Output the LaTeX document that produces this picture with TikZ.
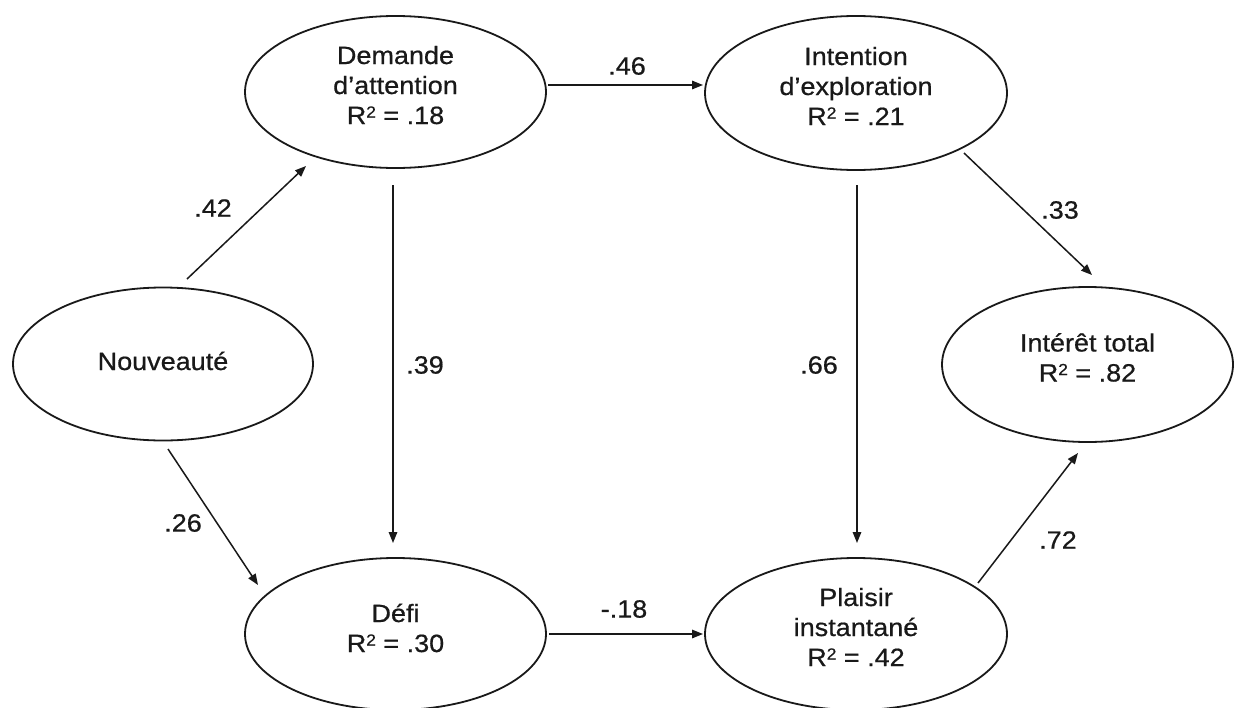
\documentclass[tikz,border=0pt]{standalone}
\usepackage{fontspec}
\setmainfont[FakeStretch=1.08,FakeBold=0.6]{Liberation Sans}
\usetikzlibrary{shapes.geometric,arrows.meta,calc}
\newcommand{\vtext}[2][4pt]{\raisebox{#1}[\height][\depth]{\begin{tabular}{@{}c@{}}#2\end{tabular}}}
\newcommand{\rsq}{R\raisebox{6.5pt}{\fontsize{16}{16}\selectfont 2}}
\tikzset{
  var/.style={ellipse, draw=black!90, line width=1.8pt, inner sep=0pt,
    font=\fontsize{25}{30}\selectfont, text=black!90},
  conn/.style={-{Triangle[length=11pt,width=8.5pt]}, line width=1.5pt, draw=black!90},
  coef/.style={font=\fontsize{25}{30}\selectfont, text=black!90, inner sep=0pt}
}
\begin{document}
\begin{tikzpicture}[x=1pt,y=-1pt]
\useasboundingbox[fill=white] (0,0) rectangle (1234,707);
% variables
\node[var, minimum width=300pt, minimum height=153pt] (nov) at (163,364) {\vtext[0pt]{Nouveauté}};
\node[var, minimum width=301pt, minimum height=152pt] (dem) at (395.5,92) {\vtext{Demande\\d’attention\\\rsq{} = .18}};
\node[var, minimum width=302pt, minimum height=154pt] (int) at (856,93) {\vtext{Intention\\d’exploration\\\rsq{} = .21}};
\node[var, minimum width=291pt, minimum height=155pt] (tot) at (1087.5,364.5) {\vtext{Intérêt total\\\rsq{} = .82}};
\node[var, minimum width=301pt, minimum height=152pt] (def) at (395.5,634) {\vtext[3pt]{Défi\\\rsq{} = .30}};
\node[var, minimum width=302pt, minimum height=152pt] (pla) at (856,634) {\vtext{Plaisir\\instantané\\\rsq{} = .42}};
% connectors
\draw[conn] ($(nov.center)+(24,-85)$) -- ($(dem.center)+(-89.5,74)$);
\draw[conn] ($(nov.center)+(5,85)$) -- ($(def.center)+(-137.5,-49)$);
\draw[conn] ($(dem.center)+(152.5,-7)$) -- ($(int.center)+(-153,-8)$);
\draw[conn] ($(dem.center)+(-2.5,93)$) -- ($(def.center)+(-2.5,-91)$);
\draw[conn] ($(int.center)+(1,92)$) -- ($(pla.center)+(1,-91)$);
\draw[conn] ($(def.center)+(153.5,0)$) -- ($(pla.center)+(-153,0)$);
\draw[conn] ($(int.center)+(108,60)$) -- ($(tot.center)+(4.5,-89.5)$);
\draw[conn] ($(pla.center)+(122,-51)$) -- ($(tot.center)+(-9.5,88.5)$);
% coefficients
\node[coef] (c42) at (213,208) {.42};
\node[coef] (c26) at (183,523) {.26};
\node[coef] (c46) at (627,66) {.46};
\node[coef] (c39) at (425,365) {.39};
\node[coef] (c66) at (819,365) {.66};
\node[coef] (c18) at (624,609) {-.18};
\node[coef] (c33) at (1060,210) {.33};
\node[coef] (c72) at (1058,540) {.72};
\end{tikzpicture}
\end{document}
